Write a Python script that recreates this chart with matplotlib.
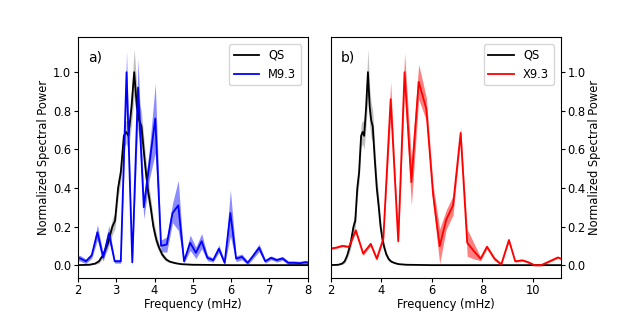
import numpy as np
import matplotlib
matplotlib.use('Agg')
import matplotlib.pyplot as plt

# quiet sun reference spectrum (same in both panels)
qs_freq = [1.5, 2.0, 2.3, 2.45, 2.55, 2.65, 2.78, 2.9, 2.97, 3.05, 3.12, 3.2, 3.26, 3.32,
           3.4, 3.47, 3.54, 3.6, 3.66, 3.74, 3.82, 3.9, 3.97, 4.05, 4.12, 4.2, 4.3, 4.4,
           4.55, 4.7, 5.0, 6.0, 8.0, 11.2]
qs_pow = [0, 0, 0.002, 0.008, 0.02, 0.05, 0.11, 0.2, 0.23, 0.4, 0.48, 0.67, 0.69, 0.67,
          0.82, 1.0, 0.82, 0.75, 0.72, 0.55, 0.4, 0.3, 0.2, 0.13, 0.09, 0.055, 0.03, 0.018,
          0.01, 0.005, 0.002, 0, 0, 0]
qs_err = [0, 0, 0.002, 0.004, 0.01, 0.015, 0.03, 0.04, 0.04, 0.05, 0.05, 0.06, 0.06, 0.07,
          0.09, 0.12, 0.1, 0.09, 0.08, 0.07, 0.06, 0.05, 0.04, 0.03, 0.02, 0.015, 0.01, 0.005,
          0.003, 0.002, 0.001, 0, 0, 0]

# M9.3 flare
m_freq = [1.91, 2.06, 2.21, 2.36, 2.51, 2.66, 2.81, 2.96, 3.12, 3.27, 3.42, 3.57, 3.72,
          3.87, 4.02, 4.17, 4.32, 4.47, 4.62, 4.77, 4.93, 5.08, 5.23, 5.38, 5.53, 5.68,
          5.83, 5.98, 6.13, 6.28, 6.43, 6.58, 6.73, 6.89, 7.04, 7.19, 7.34, 7.49, 7.64,
          7.79, 7.94, 8.09]
m_pow = [0.04, 0.035, 0.02, 0.05, 0.17, 0.04, 0.165, 0.02, 0.02, 1.0, 0.015, 0.92, 0.30,
         0.53, 0.76, 0.10, 0.107, 0.27, 0.31, 0.02, 0.116, 0.064, 0.124, 0.038, 0.026, 0.085,
         0.012, 0.27, 0.033, 0.043, 0.012, 0.05, 0.09, 0.02, 0.038, 0.026, 0.035, 0.012,
         0.012, 0.01, 0.015, 0.01]
m_err = [0.015, 0.015, 0.012, 0.015, 0.04, 0.02, 0.04, 0.01, 0.01, 0.11, 0.02, 0.15, 0.06,
         0.08, 0.18, 0.03, 0.04, 0.05, 0.13, 0.01, 0.04, 0.03, 0.04, 0.015, 0.01, 0.02,
         0.01, 0.12, 0.015, 0.015, 0.01, 0.015, 0.02, 0.01, 0.01, 0.01, 0.01, 0.01,
         0.01, 0.01, 0.01, 0.01]

# X9.3 flare
x_freq = [1.92, 2.19, 2.46, 2.72, 2.99, 3.28, 3.58, 3.82, 4.08, 4.37, 4.67, 4.92, 5.19,
          5.48, 5.78, 6.05, 6.31, 6.57, 6.84, 7.14, 7.40, 7.67, 7.93, 8.18, 8.48, 8.75,
          9.05, 9.30, 9.58, 9.80, 10.06, 10.33, 10.66, 10.99, 11.25]
x_pow = [0.085, 0.09, 0.10, 0.095, 0.18, 0.06, 0.11, 0.033, 0.137, 0.86, 0.124, 1.0, 0.43,
         0.95, 0.81, 0.365, 0.098, 0.236, 0.31, 0.685, 0.116, 0.072, 0.033, 0.095, 0.033,
         0.004, 0.13, 0.02, 0.025, 0.016, 0.0, 0.0, 0.02, 0.04, 0.025]
x_err = [0.005, 0.005, 0.005, 0.005, 0.01, 0.01, 0.01, 0.01, 0.01, 0.09, 0.02, 0.1, 0.12,
         0.09, 0.06, 0.05, 0.09, 0.05, 0.05, 0.03, 0.07, 0.04, 0.01, 0.01, 0.01,
         0.005, 0.01, 0.005, 0.005, 0.005, 0.005, 0.005, 0.005, 0.005, 0.005]

fs = 8.3

fig, (ax1, ax2) = plt.subplots(1, 2, figsize=(6.23, 3.12), dpi=100)
fig.subplots_adjust(left=0.125, right=0.9, top=0.88, bottom=0.11, wspace=0.1)

qf = np.array(qs_freq)
qp = np.array(qs_pow)
qe = np.array(qs_err)

for ax, f, p, e, c, lab, tag in [(ax1, m_freq, m_pow, m_err, 'blue', 'M9.3', 'a)'),
                                  (ax2, x_freq, x_pow, x_err, 'red', 'X9.3', 'b)')]:
    f = np.array(f)
    p = np.array(p)
    e = np.array(e)
    ax.fill_between(qf, qp - qe, qp + qe, color='k', alpha=0.25, lw=0)
    ax.plot(qf, qp, c='k', lw=1.3, label='QS')
    ax.fill_between(f, p - e, p + e, color=c, alpha=0.45 if c == 'blue' else 0.5, lw=0)
    ax.plot(f, p, c=c, lw=1.3, label=lab)
    ax.set_ylim(-0.065, 1.18)
    ax.set_xlabel('Frequency (mHz)', fontsize=fs, labelpad=0.5)
    ax.set_ylabel('Normalized Spectral Power', fontsize=fs, labelpad=2)
    ax.text(0.045, 0.915, tag, transform=ax.transAxes, fontsize=10, va='center')
    ax.legend(loc='upper right', fontsize=fs, borderaxespad=0.6, handlelength=2.2)
    ax.tick_params(labelsize=fs, length=2.8, pad=2)

ax1.set_xlim(2, 8)
ax2.set_xlim(2, 11.1)
ax2.set_xticks([2, 4, 6, 8, 10])
ax2.yaxis.tick_right()
ax2.yaxis.set_label_position('right')

plt.savefig('out.png', dpi=100)
